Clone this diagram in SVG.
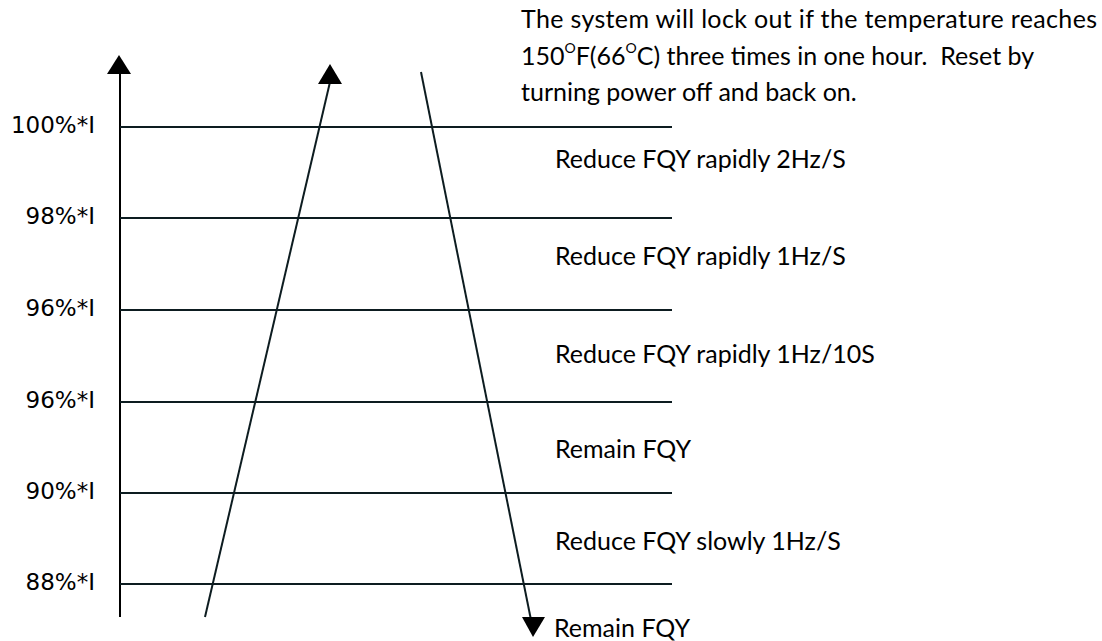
<svg xmlns="http://www.w3.org/2000/svg" width="1102" height="641" viewBox="0 0 1102 641">
<style>
.lvl{stroke:#0d1c20;stroke-width:2;fill:none}
.ax{stroke:#000;stroke-width:2;fill:none}
.lb{font-family:"DejaVu Sans",sans-serif;font-size:23px;fill:#000;text-anchor:end}
.tx{font-family:Lato,"Noto Sans",sans-serif;font-size:25px;fill:#000;white-space:pre}
.sup{font-size:14px}
.ah{fill:#000}
</style>
<g id="connectors">
<line class="ax" x1="120" y1="72" x2="120" y2="617"/>
<polygon class="ah" points="119,55 107,74 131,74"/>
<line class="lvl" x1="120" y1="127" x2="672" y2="127"/>
<line class="lvl" x1="120" y1="218" x2="672" y2="218"/>
<line class="lvl" x1="120" y1="310" x2="672" y2="310"/>
<line class="lvl" x1="120" y1="402" x2="672" y2="402"/>
<line class="lvl" x1="120" y1="493" x2="672" y2="493"/>
<line class="lvl" x1="120" y1="584" x2="672" y2="584"/>
<line class="lvl" x1="205" y1="617" x2="330" y2="82"/>
<polygon class="ah" points="330,64 318,84 342,84"/>
<line class="lvl" x1="421" y1="72" x2="531" y2="620"/>
<polygon class="ah" points="533,637 522,617 545,617"/>
</g>
<g id="labels-left">
<text class="lb" x="95" y="133">100%*I</text>
<text class="lb" x="95" y="224">98%*I</text>
<text class="lb" x="95" y="316">96%*I</text>
<text class="lb" x="95" y="408">96%*I</text>
<text class="lb" x="95" y="499">90%*I</text>
<text class="lb" x="95" y="590">88%*I</text>
</g>
<g id="note">
<text class="tx" x="521" y="28" textLength="576" lengthAdjust="spacing">The system will lock out if the temperature reaches</text>
<text class="tx" x="521" y="65">150<tspan class="sup" dy="-12">O</tspan><tspan dy="12">F(66</tspan><tspan class="sup" dy="-12">O</tspan><tspan dy="12">C) three times in one hour.  Reset by</tspan></text>
<text class="tx" x="521" y="101">turning power off and back on.</text>
</g>
<g id="zones">
<text class="tx" x="555" y="168">Reduce FQY rapidly 2Hz/S</text>
<text class="tx" x="555" y="265">Reduce FQY rapidly 1Hz/S</text>
<text class="tx" x="555" y="363">Reduce FQY rapidly 1Hz/10S</text>
<text class="tx" x="555" y="458">Remain FQY</text>
<text class="tx" x="555" y="550">Reduce FQY slowly 1Hz/S</text>
<text class="tx" x="554" y="637">Remain FQY</text>
</g>
</svg>
